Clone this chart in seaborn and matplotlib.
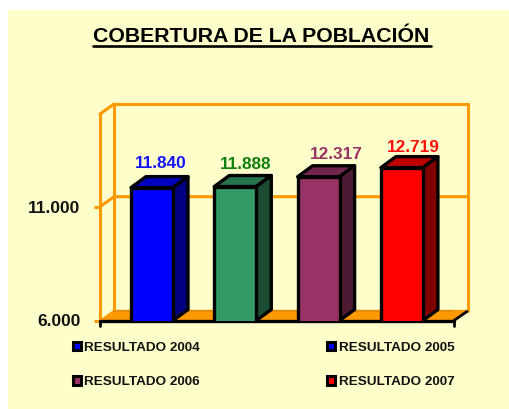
import matplotlib
matplotlib.use("Agg")
import matplotlib.pyplot as plt
import seaborn as sns
import pandas as pd
from matplotlib.patches import Patch, Polygon, Rectangle
from matplotlib.lines import Line2D
from matplotlib.colors import to_rgb

categories = ["RESULTADO 2004", "RESULTADO 2005", "RESULTADO 2006", "RESULTADO 2007"]
values = [11840, 11888, 12317, 12719]
value_labels = ["11.840", "11.888", "12.317", "12.719"]
bar_colors = ["#0000FF", "#339966", "#993366", "#FF0000"]
label_colors = ["#1414FF", "#118011", "#993366", "#FF1010"]
legend_colors = ["#0000FF", "#0000FF", "#993366", "#FF0000"]
yticks = [6000, 11000]
ytick_labels = ["6.000", "11.000"]
title = "COBERTURA DE LA POBLACIÓN"

W, H, DPI = 509, 409, 100
BG, ORANGE = "#FFFFCC", "#FF9900"
DX, DY = 14, 10   # depth of back wall, px
BDX, BDY = 15, 11 # depth of bars, px
NUDGE_X = [8.5, 10.5, 17.5, 11.5]
NUDGE_Y = [20, 18, 17.5, 16]

sns.set_theme(style="white")
plt.rcParams["font.family"] = ["Liberation Sans", "DejaVu Sans"]
plt.rcParams["font.weight"] = "bold"

fig = plt.figure(figsize=(W / DPI, H / DPI), dpi=DPI, facecolor="white")
fig.add_artist(Rectangle((8 / W, 0), 1, 1 - 10 / H, transform=fig.transFigure,
                         fc=BG, ec="none", zorder=-10))
L, R, T, B = 100, 454, 114, 320.5
ax = fig.add_axes([L / W, 1 - B / H, (R - L) / W, (B - T) / H])
ax.patch.set_alpha(0)

df = pd.DataFrame({"cat": categories, "val": values})
sns.barplot(data=df, x="cat", y="val", hue="cat", palette=bar_colors, saturation=1,
            legend=False, width=0.504, edgecolor="black", linewidth=2.4, ax=ax, zorder=5,
            dodge=False)
bars = list(ax.patches)
ax.set_xlim(-0.624, 3.625)
ax.set_ylim(6000, 15075)
ax.set_xlabel(""); ax.set_ylabel("")
for s in ax.spines.values():
    s.set_visible(False)
ax.set_xticks([])
ax.set_yticks(yticks, ytick_labels, fontsize=12.5, color="#111111")
ax.tick_params(axis="y", length=4, width=2.2, color=ORANGE, pad=10, left=True)

to_disp = ax.transData.transform
from_disp = ax.transData.inverted().transform
def shift(x, y, dx, dy):
    p = to_disp((x, y))
    return tuple(from_disp((p[0] + dx, p[1] + dy)))

x0, x1 = ax.get_xlim(); y0, y1 = ax.get_ylim()
# walls and floor
wall = dict(color=ORANGE, lw=2.2, zorder=2, clip_on=False, solid_capstyle="round")
floor = Polygon([(x0, y0), (x1, y0), shift(x1, y0, DX, DY), shift(x0, y0, DX, DY)],
                closed=True, fc=ORANGE, ec=ORANGE, lw=1, zorder=1, clip_on=False)
ax.add_patch(floor)
ax.plot([x0, x0], [y0, y1], **wall)
ax.plot([x0, shift(x0, y1, DX, DY)[0]], [y1, shift(x0, y1, DX, DY)[1]], **wall)
for xv in (x0, x1):
    a = shift(xv, y0, DX, DY); b = shift(xv, y1, DX, DY)
    ax.plot([a[0], b[0]], [a[1], b[1]], **wall)
a = shift(x0, y1, DX, DY); b = shift(x1, y1, DX, DY)
ax.plot([a[0], b[0]], [a[1], b[1]], **wall)
for t in yticks[1:]:
    a = shift(x0, t, DX, DY); b = shift(x1, t, DX, DY)
    ax.plot([x0, a[0], b[0]], [t, a[1], b[1]], **wall)
a = shift(x0, y0, DX, DY); b = shift(x1, y0, DX, DY)
ax.plot([a[0], b[0]], [a[1], b[1]], color="#E08A00", lw=1.2, zorder=2)
# front baseline
base = dict(color="black", zorder=3, clip_on=False)
ax.plot([x0, x1], [y0, y0], lw=2.4, **base)
for xv in (x0, x1):
    a = shift(xv, y0, 0, -5)
    ax.plot([xv, a[0]], [y0, a[1]], lw=2, **base)
b = shift(x1, y0, DX - 1, DY - 1)
ax.plot([x1, b[0]], [y0, b[1]], lw=2, **base)

# 3D sides of the bars and value labels
for i, (bar, color, val, lab, lc) in enumerate(zip(bars, bar_colors, values, value_labels, label_colors)):
    l, w, h = bar.get_x(), bar.get_width(), val
    r = l + w
    rgb = to_rgb(color)
    top = tuple(c * 0.75 for c in rgb)
    side = tuple(c * 0.5 for c in rgb)
    ax.add_patch(Polygon([(l, h), (r, h), shift(r, h, BDX, BDY), shift(l, h, BDX, BDY)], closed=True,
                         fc=top, ec="black", lw=2.4, zorder=4, clip_on=False, joinstyle="round"))
    ax.add_patch(Polygon([(r, y0), (r, h), shift(r, h, BDX, BDY), shift(r, y0, BDX, BDY)], closed=True,
                         fc=side, ec="black", lw=2.4, zorder=4, clip_on=False, joinstyle="round"))
    ax.annotate(lab, xy=(l + w / 2, h), xytext=(NUDGE_X[i], NUDGE_Y[i]), textcoords="offset pixels",
                ha="center", va="baseline", fontsize=12.4, color=lc, zorder=6)

# title with underline
fig.text(261.5 / W, 1 - 42.5 / H, title, ha="center", va="baseline", fontsize=15.3, color="black")
fig.add_artist(Line2D([93 / W, 431 / W], [1 - 45.5 / H] * 2, color="black", lw=1.9, transform=fig.transFigure))

# legend (column order)
handles = [Patch(fc=c, ec="black", lw=2.2) for c in legend_colors]
order = [0, 2, 1, 3]
leg = fig.legend([handles[i] for i in order], [categories[i] for i in order], ncol=2,
                 loc="upper left", bbox_to_anchor=(62 / W, 1 - 331 / H), frameon=False,
                 fontsize=9.7, handlelength=0.6, handleheight=0.6, handletextpad=0.25,
                 columnspacing=9.45, labelspacing=1.68, borderpad=0.3, labelcolor="#111111")

fig.savefig("out.png", dpi=DPI, facecolor="white")
